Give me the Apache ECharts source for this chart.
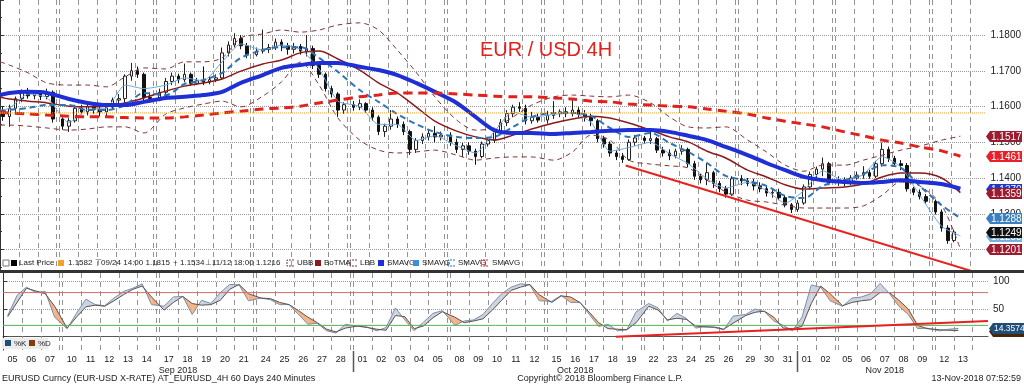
<!DOCTYPE html>
<html><head><meta charset="utf-8">
<script src="https://cdn.jsdelivr.net/npm/echarts@6/dist/echarts.min.js"></script>
<style>html,body{margin:0;padding:0;background:#fff}#c{width:1024px;height:385px}</style>
</head><body><div id="c"></div>
<script>
// ---------------- categories (trading days) ----------------
const tradingDates = ['2018-09-05','2018-09-06','2018-09-07','2018-09-10','2018-09-11','2018-09-12','2018-09-13','2018-09-14','2018-09-17','2018-09-18','2018-09-19','2018-09-20','2018-09-21','2018-09-24','2018-09-25','2018-09-26','2018-09-27','2018-09-28','2018-10-01','2018-10-02','2018-10-03','2018-10-04','2018-10-05','2018-10-08','2018-10-09','2018-10-10','2018-10-11','2018-10-12','2018-10-15','2018-10-16','2018-10-17','2018-10-18','2018-10-19','2018-10-22','2018-10-23','2018-10-24','2018-10-25','2018-10-26','2018-10-29','2018-10-30','2018-10-31','2018-11-01','2018-11-02','2018-11-05','2018-11-06','2018-11-07','2018-11-08','2018-11-09','2018-11-12','2018-11-13'];
const monthNames = ['Jan','Feb','Mar','Apr','May','Jun','Jul','Aug','Sep','Oct','Nov','Dec'];

// ---------------- price candles: [open, close, low, high], 3 per day ----------------
const ohlc = [
[1.1590,1.1572,1.1560,1.1600],[1.1572,1.1595,1.1543,1.1605],[1.1595,1.1622,1.1585,1.1628],
[1.1622,1.1640,1.1612,1.1648],[1.1640,1.1630,1.1622,1.1652],[1.1630,1.1638,1.1620,1.1645],
[1.1638,1.1628,1.1618,1.1645],[1.1628,1.1640,1.1620,1.1650],[1.1640,1.1565,1.1555,1.1645],
[1.1565,1.1545,1.1535,1.1575],[1.1545,1.1560,1.1529,1.1568],[1.1560,1.1595,1.1555,1.1605],
[1.1595,1.1585,1.1578,1.1605],[1.1585,1.1600,1.1575,1.1608],[1.1600,1.1592,1.1580,1.1612],
[1.1592,1.1585,1.1572,1.1600],[1.1585,1.1598,1.1570,1.1610],[1.1598,1.1618,1.1590,1.1625],
[1.1618,1.1622,1.1605,1.1635],[1.1622,1.1685,1.1610,1.1690],[1.1685,1.1700,1.1672,1.1722],
[1.1700,1.1690,1.1680,1.1712],[1.1690,1.1625,1.1618,1.1695],[1.1625,1.1622,1.1612,1.1640],
[1.1622,1.1640,1.1615,1.1650],[1.1640,1.1670,1.1635,1.1680],[1.1670,1.1685,1.1660,1.1695],
[1.1685,1.1675,1.1665,1.1692],[1.1675,1.1690,1.1668,1.1720],[1.1690,1.1665,1.1658,1.1695],
[1.1665,1.1672,1.1660,1.1680],[1.1672,1.1668,1.1660,1.1712],[1.1668,1.1675,1.1662,1.1685],
[1.1675,1.1680,1.1668,1.1690],[1.1680,1.1750,1.1675,1.1765],[1.1750,1.1772,1.1740,1.1782],
[1.1772,1.1790,1.1765,1.1805],[1.1790,1.1770,1.1760,1.1800],[1.1770,1.1745,1.1735,1.1778],
[1.1745,1.1755,1.1740,1.1765],[1.1755,1.1760,1.1748,1.1815],[1.1760,1.1765,1.1750,1.1775],
[1.1765,1.1780,1.1758,1.1790],[1.1780,1.1770,1.1755,1.1788],[1.1770,1.1760,1.1745,1.1778],
[1.1760,1.1768,1.1748,1.1778],[1.1768,1.1755,1.1745,1.1775],[1.1755,1.1762,1.1740,1.1800],
[1.1762,1.1715,1.1705,1.1770],[1.1715,1.1690,1.1680,1.1722],[1.1690,1.1650,1.1642,1.1695],
[1.1650,1.1635,1.1625,1.1658],[1.1635,1.1590,1.1571,1.1640],[1.1590,1.1605,1.1580,1.1612],
[1.1605,1.1598,1.1588,1.1615],[1.1598,1.1608,1.1590,1.1620],[1.1608,1.1590,1.1582,1.1612],
[1.1590,1.1570,1.1560,1.1598],[1.1570,1.1530,1.1520,1.1575],[1.1530,1.1545,1.1515,1.1552],
[1.1545,1.1565,1.1535,1.1590],[1.1565,1.1550,1.1540,1.1572],[1.1550,1.1530,1.1520,1.1558],
[1.1530,1.1480,1.1465,1.1535],[1.1480,1.1505,1.1470,1.1512],[1.1505,1.1515,1.1495,1.1525],
[1.1515,1.1525,1.1505,1.1535],[1.1525,1.1515,1.1500,1.1545],[1.1515,1.1520,1.1505,1.1530],
[1.1520,1.1500,1.1490,1.1528],[1.1500,1.1480,1.1470,1.1510],[1.1480,1.1490,1.1459,1.1498],
[1.1490,1.1475,1.1465,1.1500],[1.1475,1.1460,1.1437,1.1482],[1.1460,1.1495,1.1455,1.1502],
[1.1495,1.1505,1.1488,1.1512],[1.1505,1.1530,1.1498,1.1538],[1.1530,1.1555,1.1522,1.1565],
[1.1555,1.1580,1.1545,1.1590],[1.1580,1.1598,1.1570,1.1605],[1.1598,1.1595,1.1585,1.1612],
[1.1595,1.1560,1.1550,1.1605],[1.1560,1.1570,1.1552,1.1585],[1.1570,1.1562,1.1555,1.1580],
[1.1562,1.1575,1.1552,1.1588],[1.1575,1.1580,1.1565,1.1615],[1.1580,1.1585,1.1570,1.1592],
[1.1585,1.1580,1.1570,1.1598],[1.1580,1.1590,1.1572,1.1620],[1.1590,1.1578,1.1570,1.1598],
[1.1578,1.1570,1.1558,1.1590],[1.1570,1.1560,1.1545,1.1580],[1.1560,1.1510,1.1500,1.1565],
[1.1510,1.1495,1.1485,1.1518],[1.1495,1.1470,1.1460,1.1502],[1.1470,1.1460,1.1450,1.1478],
[1.1460,1.1452,1.1442,1.1470],[1.1452,1.1500,1.1448,1.1508],[1.1500,1.1512,1.1490,1.1520],
[1.1512,1.1505,1.1495,1.1518],[1.1505,1.1510,1.1495,1.1530],[1.1510,1.1478,1.1470,1.1515],
[1.1478,1.1470,1.1460,1.1487],[1.1470,1.1462,1.1450,1.1480],[1.1462,1.1475,1.1455,1.1482],
[1.1475,1.1480,1.1465,1.1492],[1.1480,1.1440,1.1430,1.1485],[1.1440,1.1405,1.1395,1.1448],
[1.1405,1.1395,1.1385,1.1412],[1.1395,1.1415,1.1380,1.1442],[1.1415,1.1385,1.1372,1.1420],
[1.1385,1.1370,1.1360,1.1392],[1.1370,1.1355,1.1345,1.1378],[1.1355,1.1398,1.1350,1.1405],
[1.1398,1.1392,1.1380,1.1408],[1.1392,1.1385,1.1377,1.1400],[1.1385,1.1378,1.1365,1.1398],
[1.1378,1.1370,1.1360,1.1388],[1.1370,1.1358,1.1348,1.1380],[1.1358,1.1360,1.1345,1.1372],
[1.1360,1.1345,1.1338,1.1370],[1.1345,1.1325,1.1318,1.1352],[1.1325,1.1312,1.1302,1.1330],
[1.1312,1.1330,1.1305,1.1338],[1.1330,1.1375,1.1325,1.1382],[1.1375,1.1410,1.1368,1.1418],
[1.1410,1.1425,1.1400,1.1432],[1.1425,1.1440,1.1405,1.1457],[1.1440,1.1388,1.1380,1.1445],
[1.1388,1.1395,1.1378,1.1405],[1.1395,1.1385,1.1377,1.1402],[1.1385,1.1400,1.1380,1.1408],
[1.1400,1.1408,1.1395,1.1418],[1.1408,1.1415,1.1398,1.1433],[1.1415,1.1405,1.1398,1.1423],
[1.1405,1.1440,1.1400,1.1448],[1.1440,1.1480,1.1432,1.1499],[1.1480,1.1455,1.1445,1.1488],
[1.1455,1.1440,1.1432,1.1462],[1.1440,1.1435,1.1422,1.1450],[1.1435,1.1370,1.1362,1.1442],
[1.1370,1.1360,1.1352,1.1375],[1.1360,1.1348,1.1340,1.1368],[1.1348,1.1335,1.1328,1.1355],
[1.1335,1.1305,1.1298,1.1340],[1.1305,1.1260,1.1250,1.1312],[1.1260,1.1225,1.1216,1.1268],
[1.1225,1.1249,1.1220,1.1256]
];

// ---------------- indicator lines: first value = left edge, then one per trading day ----------------
const smaFast  = [1.1590,1.1595,1.1635,1.1625,1.1555,1.1592,1.1595,1.1660,1.1650,1.1660,1.1680,1.1672,1.1725,1.1775,1.1758,1.1772,1.1760,1.1705,1.1615,1.1600,1.1550,1.1550,1.1505,1.1518,1.1490,1.1470,1.1530,1.1585,1.1570,1.1578,1.1582,1.1555,1.1475,1.1485,1.1500,1.1468,1.1440,1.1398,1.1372,1.1388,1.1365,1.1330,1.1365,1.1420,1.1392,1.1410,1.1460,1.1430,1.1352,1.1265,1.1238];
const smaMid   = [1.1585,1.1590,1.1596,1.1604,1.1604,1.1590,1.1590,1.1604,1.1638,1.1632,1.1663,1.1674,1.1694,1.1736,1.1758,1.1766,1.1766,1.1736,1.1697,1.1646,1.1613,1.1579,1.1551,1.1529,1.1515,1.1512,1.1515,1.1543,1.1571,1.1582,1.1582,1.1573,1.1540,1.1515,1.1526,1.1498,1.1473,1.1442,1.1406,1.1392,1.1378,1.1350,1.1344,1.1378,1.1394,1.1411,1.1436,1.1428,1.1378,1.1324,1.1288];
const sma50    = [1.1632,1.1638,1.1641,1.1638,1.1621,1.1610,1.1604,1.1604,1.1613,1.1624,1.1627,1.1632,1.1641,1.1666,1.1688,1.1708,1.1716,1.1722,1.1722,1.1711,1.1702,1.1688,1.1666,1.1641,1.1610,1.1571,1.1534,1.1526,1.1526,1.1523,1.1526,1.1529,1.1532,1.1534,1.1534,1.1529,1.1518,1.1506,1.1487,1.1464,1.1442,1.1422,1.1403,1.1394,1.1389,1.1386,1.1389,1.1394,1.1389,1.1383,1.1370];
const sma200   = [1.1583,1.1582,1.1579,1.1576,1.1573,1.1571,1.1571,1.1569,1.1568,1.1568,1.1571,1.1576,1.1582,1.1587,1.1593,1.1596,1.1601,1.1610,1.1618,1.1627,1.1632,1.1638,1.1638,1.1638,1.1635,1.1632,1.1629,1.1627,1.1627,1.1624,1.1621,1.1615,1.1613,1.1607,1.1604,1.1601,1.1599,1.1593,1.1587,1.1579,1.1568,1.1559,1.1551,1.1543,1.1529,1.1518,1.1506,1.1498,1.1487,1.1476,1.1461];
const boTma    = [1.1627,1.1621,1.1615,1.1610,1.1601,1.1599,1.1601,1.1610,1.1624,1.1643,1.1657,1.1666,1.1677,1.1699,1.1719,1.1730,1.1750,1.1755,1.1733,1.1702,1.1666,1.1638,1.1599,1.1559,1.1531,1.1515,1.1506,1.1520,1.1537,1.1554,1.1565,1.1573,1.1568,1.1554,1.1534,1.1515,1.1501,1.1475,1.1456,1.1422,1.1403,1.1381,1.1369,1.1372,1.1375,1.1383,1.1403,1.1414,1.1414,1.1400,1.1359];
const upperBB  = [1.1725,1.1716,1.1694,1.1666,1.1660,1.1660,1.1655,1.1683,1.1708,1.1705,1.1725,1.1725,1.1736,1.1792,1.1803,1.1814,1.1808,1.1814,1.1828,1.1834,1.1814,1.1758,1.1696,1.1627,1.1562,1.1534,1.1540,1.1571,1.1604,1.1627,1.1632,1.1629,1.1627,1.1632,1.1610,1.1571,1.1543,1.1540,1.1543,1.1506,1.1473,1.1436,1.1419,1.1436,1.1436,1.1450,1.1464,1.1478,1.1489,1.1506,1.1517];
const lowerBB  = [1.1548,1.1548,1.1545,1.1540,1.1534,1.1537,1.1543,1.1543,1.1526,1.1579,1.1596,1.1607,1.1615,1.1599,1.1629,1.1669,1.1724,1.1660,1.1568,1.1506,1.1478,1.1470,1.1473,1.1478,1.1464,1.1450,1.1456,1.1459,1.1459,1.1450,1.1473,1.1520,1.1506,1.1450,1.1439,1.1434,1.1428,1.1394,1.1361,1.1338,1.1333,1.1324,1.1316,1.1316,1.1316,1.1322,1.1352,1.1389,1.1378,1.1324,1.1201];
const refLevel = 1.1582;
const priceTrend = [[200, 1.1435], [312, 1.1136]];   // [bar index, price]

// ---------------- stochastic: two values per trading day ----------------
const stochK = [38,75, 90,80, 82,35, 14,42, 68,58, 56,70, 82,88, 96,58, 55,72, 73,40, 66,60, 80,95, 94,65, 70,67, 58,58, 40,22, 24,10, 6,22, 18,17, 10,16, 52,30, 10,26, 42,47, 20,28, 30,40, 60,78, 90,96, 94,65, 64,75, 62,62, 40,18, 22,10, 12,45, 60,52, 28,42, 33,15, 18,16, 12,37, 40,50, 45,28, 20,10, 35,94, 90,65, 55,70, 72,78, 97,78, 55,40, 14,15, 10,13, 14.3574];
const stochD = [36,62, 88,83, 78,55, 15,35, 54,57, 55,65, 76,86, 92,72, 48,62, 73,60, 57,58, 66,86, 95,78, 70,69, 62,58, 47,35, 25,13, 8,15, 19,16, 13,11, 38,36, 14,19, 34,45, 35,25, 28,32, 48,66, 84,90, 95,76, 62,74, 72,62, 44,25, 14,13, 12,25, 55,48, 30,33, 31,19, 17,17, 13,24, 38,44, 46,35, 15,14, 18,60, 92,78, 56,62, 65,67, 80,80, 66,50, 20,14, 12,11, 10.5];
const stochLevels = [80, 20];
const stochTrend = [[196, -1], [315, 28]];

// ---------------- right-hand value tags ----------------
const priceTagValues = [1.1517, 1.1461, 1.1370, 1.1359, 1.1288, 1.1238, 1.1249, 1.1201];
const stochTagValues = [10.5, 14.3574];

// ---------------- layout / style constants ----------------
const BARS_PER_DAY = 6, WEEKEND_BARS = 1;
const X_MAX = 315;
const P_MIN = 1.11427, P_MAX = 1.18979;
const S_MIN = -25.1, S_MAX = 115.9;
const PRICE_TAG_COLORS = ['#9b1b30','#e8202a','#1f35d0','#9b1b30','#3a7fc0','#79b0e0','#111111','#9b1b30'];
const STOCH_TAG_COLORS = ['#4a2508','#1f4e79'];
const FONT = '"Liberation Sans", Arial, sans-serif';

// ---------------- derived positions (bar index) ----------------
const starts = [];
(function(){ let idx = 0; tradingDates.forEach((d,i)=>{ if(i>0){ const gap = Math.round((Date.parse(d)-Date.parse(tradingDates[i-1]))/86400000); idx += BARS_PER_DAY + (gap>1 ? WEEKEND_BARS : 0);} starts.push(idx); }); })();
const dayLabels = tradingDates.map(d => d.slice(8));
const indX = [0].concat(starts.map(s => s + 3));
const candleX = ohlc.map((_, c) => starts[Math.floor(c/3)] + 1 + 2*(c%3));
const stochX = stochK.map((_, i) => starts[Math.floor(i/2)] + 1.5 + 3*(i%2));
const pts = (xs, ys) => ys.map((y,i) => [xs[i], y]);

const monthGroups = [];
tradingDates.forEach((d,i) => { const key = d.slice(0,7); let g = monthGroups[monthGroups.length-1]; if(!g || g.key!==key){ g = {key, first:i, last:i}; monthGroups.push(g);} else g.last = i; });
monthGroups.forEach((g,j) => { g.a = starts[g.first]; g.b = j < monthGroups.length-1 ? starts[monthGroups[j+1].first] : starts[g.last] + BARS_PER_DAY; g.center = Math.round((g.a+g.b)/2); g.label = monthNames[+g.key.slice(5,7)-1] + ' ' + g.key.slice(0,4); });
const monthBounds = monthGroups.slice(1).map(g => g.a);
const labelAt = {}; starts.forEach((s,i) => { labelAt[s+3] = dayLabels[i]; });
const monthAt = {}; monthGroups.forEach(g => { monthAt[g.center] = g.label; });

const gridXsSet = new Set(); starts.forEach(s => { gridXsSet.add(s); gridXsSet.add(s + BARS_PER_DAY); });
const gridXs = Array.from(gridXsSet).filter(x => x > 0 && x < X_MAX).sort((a,b)=>a-b);

function vgrid(gi, yMin, yMax){
  return { type:'custom', xAxisIndex:gi, yAxisIndex:gi, z:1, silent:true,
    data: gridXs.map(x => [x, yMin, yMax]), encode:{x:0, y:[1,2]},
    renderItem(params, api){
      const a = api.coord([api.value(0), api.value(2)]), b = api.coord([api.value(0), api.value(1)]);
      const x = Math.round(a[0]) + 0.5;
      return {type:'line', shape:{x1:x, y1:a[1], x2:x, y2:b[1]}, style:{stroke:'#939393', lineWidth:1, lineDash:[5,4]}};
    }};
}
function tags(gi, values, colors, xmax, fontPx){
  return { type:'custom', xAxisIndex:gi, yAxisIndex:gi, z:10, clip:false, silent:true,
    data: values.map(v => [xmax, v]), encode:{x:0, y:1},
    renderItem(params, api){
      const v = api.value(1); const p = api.coord([api.value(0), v]);
      const x0 = Math.round(p[0]) + 1, y = Math.round(p[1]) + 0.5, h = 11, w = 36, a = 4;
      return {type:'group', children:[
        {type:'polygon', shape:{points:[[x0,y],[x0+a,y-h/2],[x0+w,y-h/2],[x0+w,y+h/2],[x0+a,y+h/2]]}, style:{fill:colors[params.dataIndex]}},
        {type:'text', style:{text:v.toFixed(4), x:x0+a+1, y:y+0.5, align:'left', verticalAlign:'middle', fill:'#fff', font:fontPx + 'px ' + FONT}}
      ]};
    }};
}
function lineSeries(name, data, color, width, dash, smooth){
  return {name, type:'line', xAxisIndex:0, yAxisIndex:0, data, showSymbol:false, symbol:'none', silent:true, smooth: smooth===undefined ? 0.3 : smooth,
    lineStyle:{color, width, type: dash || 'solid'}};
}

const fillData = [];
for (let i = 0; i < stochK.length-1; i++) fillData.push([stochX[i], stochK[i], stochD[i], stochX[i+1], stochK[i+1], stochD[i+1]]);

const option = {
  animation:false,
  backgroundColor:'#ffffff',
  grid:[{left:0, right:36, top:0, height:270}, {left:0, right:36, top:273, height:77}],
  xAxis:[
    {gridIndex:0, type:'value', min:0, max:X_MAX, show:false},
    {gridIndex:1, type:'value', min:0, max:X_MAX, interval:1,
     axisLine:{show:true, lineStyle:{color:'#555', width:1}}, axisTick:{show:false}, splitLine:{show:false},
     axisLabel:{color:'#222', fontSize:9, fontFamily:FONT, margin:4, lineHeight:11, showMinLabel:true, showMaxLabel:true,
       formatter: v => { const d = labelAt[v] || ''; const m = monthAt[v]; return m ? (d || ' ') + '\n' + m : d; }}}
  ],
  yAxis:[
    {gridIndex:0, type:'value', position:'right', min:P_MIN, max:P_MAX, splitNumber:7,
     axisLine:{show:true, lineStyle:{color:'#333'}}, axisTick:{show:true, length:4, lineStyle:{color:'#333'}},
     minorTick:{show:true, splitNumber:2, length:2, lineStyle:{color:'#333'}},
     splitLine:{show:true, showMinLine:false, showMaxLine:false, lineStyle:{type:'dotted', color:'#9a9a9a'}},
     axisLabel:{formatter: v => v.toFixed(4), showMinLabel:false, showMaxLabel:false, color:'#222', fontSize:10, fontFamily:FONT, margin:5}},
    {gridIndex:1, type:'value', position:'right', min:S_MIN, max:S_MAX, splitNumber:3,
     axisLine:{show:true, lineStyle:{color:'#333'}}, axisTick:{show:true, length:4, lineStyle:{color:'#333'}},
     splitLine:{show:true, showMinLine:false, showMaxLine:false, lineStyle:{type:'dotted', color:'#9a9a9a'}},
     axisLabel:{formatter: v => (v===100 || v===50) ? String(v) : '', showMinLabel:false, showMaxLabel:false, color:'#222', fontSize:10, fontFamily:FONT, margin:5}}
  ],
  series:[
    vgrid(0, P_MIN, P_MAX),
    vgrid(1, S_MIN, S_MAX),
    lineSeries('UBB', pts(indX, upperBB), '#7f3535', 1, [5,4]),
    lineSeries('LBB', pts(indX, lowerBB), '#7f3535', 1, [5,4]),
    lineSeries('BoTMA', pts(indX, boTma), '#8b1a1a', 1.5),
    {name:'Last Price', type:'candlestick', xAxisIndex:0, yAxisIndex:0, barWidth:3, silent:true,
     data: ohlc.map((c,i) => [candleX[i], c[0], c[1], c[2], c[3]]),
     itemStyle:{color:'#ffffff', color0:'#111111', borderColor:'#222222', borderColor0:'#111111', borderWidth:1}},
    lineSeries('SMAVG fast', pts(indX, smaFast), '#6ea6d8', 1, null, 0.2),
    lineSeries('SMAVG mid', pts(indX, smaMid), '#2f74b5', 2, [6,4]),
    lineSeries('SMAVG 50', pts(indX, sma50), '#1f2fd6', 4),
    lineSeries('SMAVG 200', pts(indX, sma200), '#e3211c', 3, [9,6]),
    lineSeries('Ref', [[0, refLevel], [X_MAX, refLevel]], '#f2a22c', 1, 'dotted', false),
    lineSeries('Trend', priceTrend, '#e8211e', 2, null, false),
    tags(0, priceTagValues, PRICE_TAG_COLORS, X_MAX, 10),
    {type:'custom', xAxisIndex:1, yAxisIndex:1, silent:true, data:fillData, encode:{x:[0,3], y:[1,2,4,5]},
     renderItem(params, api){
       const x1 = api.value(0), k1 = api.value(1), d1 = api.value(2), x2 = api.value(3), k2 = api.value(4), d2 = api.value(5);
       const c = (x,v) => api.coord([x,v]);
       const col = s => s >= 0 ? 'rgba(200,206,218,0.9)' : 'rgba(244,170,120,0.9)';
       const a = k1 - d1, b = k2 - d2;
       if (a*b >= 0) {
         return {type:'polygon', shape:{points:[c(x1,k1), c(x2,k2), c(x2,d2), c(x1,d1)]}, style:{fill:col(a+b)}};
       }
       const t = a/(a-b), xc = x1 + t*(x2-x1), vc = k1 + t*(k2-k1);
       return {type:'group', children:[
         {type:'polygon', shape:{points:[c(x1,k1), c(xc,vc), c(x1,d1)]}, style:{fill:col(a)}},
         {type:'polygon', shape:{points:[c(xc,vc), c(x2,k2), c(x2,d2)]}, style:{fill:col(b)}}
       ]};
     }},
    {name:'%K', type:'line', xAxisIndex:1, yAxisIndex:1, data:pts(stochX, stochK), showSymbol:false, symbol:'none', silent:true, lineStyle:{color:'#7890ac', width:1}},
    {name:'%D', type:'line', xAxisIndex:1, yAxisIndex:1, data:pts(stochX, stochD), showSymbol:false, symbol:'none', silent:true, lineStyle:{color:'#5a5350', width:1}},
    {type:'line', xAxisIndex:1, yAxisIndex:1, data:[[0,stochLevels[0]],[X_MAX,stochLevels[0]]], showSymbol:false, symbol:'none', silent:true, lineStyle:{color:'#cf6e6e', width:1}},
    {type:'line', xAxisIndex:1, yAxisIndex:1, data:[[0,stochLevels[1]],[X_MAX,stochLevels[1]]], showSymbol:false, symbol:'none', silent:true, lineStyle:{color:'#55b055', width:1}},
    {type:'line', xAxisIndex:1, yAxisIndex:1, data:stochTrend, showSymbol:false, symbol:'none', silent:true, lineStyle:{color:'#e8211e', width:2}},
    tags(1, stochTagValues, STOCH_TAG_COLORS, X_MAX, 8.5),
    {type:'custom', xAxisIndex:1, yAxisIndex:1, clip:false, silent:true, data: monthBounds.map(x => [x, S_MIN]), encode:{x:0, y:1},
     renderItem(params, api){ const p = api.coord([api.value(0), api.value(1)]); const x = Math.round(p[0]) + 0.5;
       return {type:'line', shape:{x1:x, y1:p[1]+1, x2:x, y2:p[1]+22}, style:{stroke:'#555', lineWidth:1.5}}; }}
  ],
  graphic:[]
};

// ---------- text decorations ----------
const g = option.graphic;
const txt = (x, y, text, opts) => g.push(Object.assign({type:'text', x, y, z:100, silent:true, style:Object.assign({text, fill:'#222', font:'8px ' + FONT, verticalAlign:'middle'}, (opts||{}))}));
g.push({type:'rect', z:100, silent:true, shape:{x:0, y:270, width:1024, height:3}, style:{fill:'#333'}});
txt(546, 50, 'EUR / USD 4H', {fill:'#e3211c', font:'20px ' + FONT, align:'center'});
// legend row
const LY = 263;
g.push({type:'rect', z:100, silent:true, shape:{x:3, y:LY-3, width:6, height:6}, style:{fill:'#fff', stroke:'#777', lineWidth:1}});
const box = (x, color) => g.push({type:'rect', z:100, silent:true, shape:{x, y:LY-3, width:6, height:6}, style:{fill:color}});
const bracket = (x, color) => g.push({type:'polyline', z:100, silent:true, shape:{points:[[x+7,LY-3],[x,LY-3],[x,LY+3],[x+7,LY+3]]}, style:{stroke:color, lineWidth:1, fill:null, lineDash:[2,1]}});
box(11, '#000'); txt(19, LY, 'Last Price');
box(58, '#f2a22c'); txt(68, LY, '1.1582');
txt(95, LY, '\u22A4', {fill:'#555'}); txt(101, LY, '09/24 14:00 1.1815');
txt(173, LY, '+', {fill:'#555'}); txt(180, LY, '1.1534');
txt(205, LY, '\u22A5', {fill:'#555'}); txt(212, LY, '11/12 18:00 1.1216');
bracket(287, '#7f3535'); txt(297, LY, 'UBB');
box(315, '#8b1a1a'); txt(324, LY, 'BoTMA');
bracket(350, '#7f3535'); txt(360, LY, 'LBB');
box(378, '#1f2fd6'); txt(387, LY, 'SMAVG');
box(413, '#3a8ee6'); txt(422, LY, 'SMAVG');
bracket(448, '#2f74b5'); txt(458, LY, 'SMAVG');
bracket(481, '#e3211c'); txt(492, LY, 'SMAVG');
// stochastic legend
g.push({type:'rect', z:100, silent:true, shape:{x:2, y:338, width:46, height:11}, style:{fill:'#ececec'}});
g.push({type:'rect', z:100, silent:true, shape:{x:5, y:340, width:6, height:6}, style:{fill:'#1f4e79'}});
txt(14, 343.5, '%K');
g.push({type:'rect', z:100, silent:true, shape:{x:29, y:340, width:6, height:6}, style:{fill:'#843c0c'}});
txt(38, 343.5, '%D');
// footer
txt(2, 379, 'EURUSD Curncy (EUR-USD X-RATE) AT_EURUSD_4H 60 Days 240 Minutes', {font:'9px ' + FONT});
txt(600, 379, 'Copyright\u00A9 2018 Bloomberg Finance L.P.', {font:'9px ' + FONT, align:'center'});
txt(1021, 379, '13-Nov-2018 07:52:59', {font:'9px ' + FONT, align:'right'});

const chart = echarts.init(document.getElementById('c'));
chart.setOption(option);
</script></body></html>
